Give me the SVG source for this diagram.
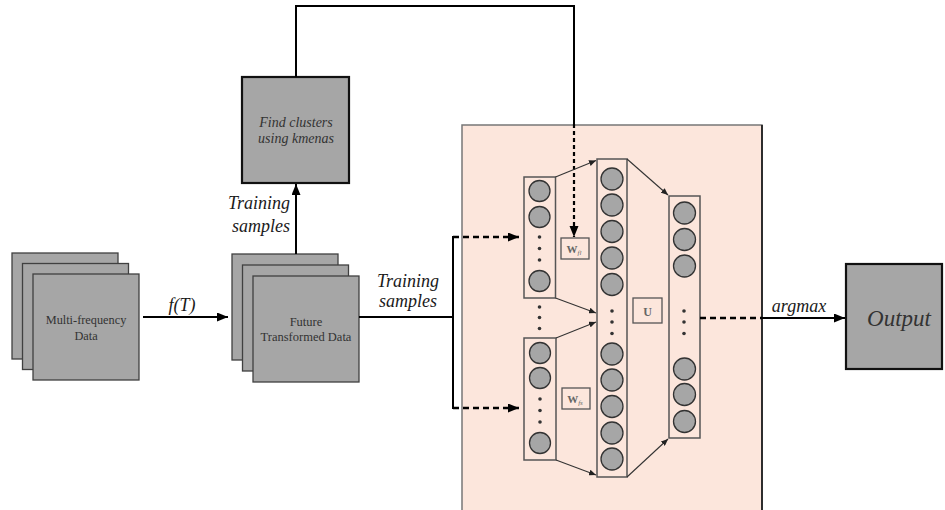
<svg xmlns="http://www.w3.org/2000/svg" width="945" height="510" viewBox="0 0 945 510">
  <defs>
    <style>
      .box { fill: #a6a6a6; stroke: #404040; stroke-width: 1.3; }
      .boxb { fill: #a6a6a6; stroke: #111; stroke-width: 2.2; }
      text { font-family: 'Liberation Serif', 'DejaVu Serif', serif; }
      .btxt { fill: #333; text-anchor: middle; }
      .lbl { font-style: italic; fill: #1a1a1a; font-size: 18px; }
      .conn { fill: none; stroke: #000; stroke-width: 2; }
      .dash { fill: none; stroke: #000; stroke-width: 2.5; stroke-dasharray: 6 4; }
      .dot { fill: none; stroke: #000; stroke-width: 2.2; stroke-dasharray: 4 3; }
      .thin { fill: none; stroke: #333; stroke-width: 1.1; }
      .col { fill: none; stroke: #555; stroke-width: 1.5; }
      .neuron { fill: #a6a6a6; stroke: #333; stroke-width: 1.3; }
      .ell { fill: #333; }
      .wbox { fill: none; stroke: #555; stroke-width: 1.3; }
      .wtxt { font-weight: bold; fill: #666; text-anchor: middle; }
    </style>
    <marker id="arr" markerUnits="userSpaceOnUse" markerWidth="12" markerHeight="10" refX="11" refY="4.5" orient="auto">
      <path d="M0,0 L11,4.5 L0,9 z" fill="#000"/>
    </marker>
    <marker id="arrS" markerUnits="userSpaceOnUse" markerWidth="8" markerHeight="6" refX="7" refY="3" orient="auto">
      <path d="M0,0 L7,3 L0,6 z" fill="#222"/>
    </marker>
  </defs>

  <rect width="945" height="510" fill="#fff"/>

  <!-- network panel background -->
  <g id="network-panel">
    <rect x="462" y="125" width="300" height="392" fill="#fce6dc" stroke="#777" stroke-width="1.5"/>
    <line x1="762" y1="125" x2="762" y2="510" stroke="#222" stroke-width="1.8"/>
  </g>

  <!-- input data stack -->
  <g id="multi-frequency-data">
    <rect class="box" x="12" y="253" width="106" height="106"/>
    <rect class="box" x="22.5" y="263.5" width="106" height="106"/>
    <rect class="box" x="33" y="274" width="106" height="106"/>
    <text class="btxt" x="86" y="324" font-size="12.3" font-family="'Liberation Serif', serif">Multi-frequency</text>
    <text class="btxt" x="86" y="340" font-size="12.3" font-family="'Liberation Serif', serif">Data</text>
  </g>

  <!-- transformed data stack -->
  <g id="transformed-data">
    <rect class="box" x="232" y="254" width="106" height="106"/>
    <rect class="box" x="242.5" y="265" width="106" height="106"/>
    <rect class="box" x="253" y="276" width="106" height="106"/>
    <text class="btxt" x="306" y="326" font-size="12.5" font-family="'Liberation Serif', serif">Future</text>
    <text class="btxt" x="306" y="341" font-size="12.5" font-family="'Liberation Serif', serif">Transformed Data</text>
  </g>

  <!-- clustering step -->
  <g id="find-clusters">
    <rect class="boxb" x="242" y="77" width="107" height="106"/>
    <text class="btxt" x="296" y="127" font-size="14" font-style="italic" font-family="'Liberation Serif', serif">Find clusters</text>
    <text class="btxt" x="296" y="143" font-size="14" font-style="italic" font-family="'Liberation Serif', serif">using kmenas</text>
  </g>

  <!-- output node -->
  <g id="output">
    <rect class="boxb" x="846" y="264" width="96" height="105"/>
    <text class="btxt" x="899" y="325.5" font-size="23" font-style="italic" fill="#222" font-family="'Liberation Serif', serif">Output</text>
  </g>

  <!-- first input column -->
  <g id="input-column-1">
    <rect class="col" x="524" y="177" width="31.5" height="121"/>
    <circle class="neuron" cx="539.5" cy="191" r="10.5"/>
    <circle class="neuron" cx="539.5" cy="217" r="10.5"/>
    <circle class="ell" cx="539.5" cy="237" r="1.8"/>
    <circle class="ell" cx="539.5" cy="248.5" r="1.8"/>
    <circle class="ell" cx="539.5" cy="260" r="1.8"/>
    <circle class="neuron" cx="539.5" cy="281" r="10.5"/>
  </g>

  <!-- ellipsis between input columns -->
  <g id="column-gap-dots">
    <circle class="ell" cx="539.5" cy="307" r="1.8"/>
    <circle class="ell" cx="539.5" cy="317.5" r="1.8"/>
    <circle class="ell" cx="539.5" cy="328.5" r="1.8"/>
  </g>

  <!-- second input column -->
  <g id="input-column-2">
    <rect class="col" x="524" y="338" width="32" height="122"/>
    <circle class="neuron" cx="540" cy="353" r="10.5"/>
    <circle class="neuron" cx="540" cy="378" r="10.5"/>
    <circle class="ell" cx="540" cy="399" r="1.8"/>
    <circle class="ell" cx="540" cy="410.5" r="1.8"/>
    <circle class="ell" cx="540" cy="422" r="1.8"/>
    <circle class="neuron" cx="540" cy="443" r="10.5"/>
  </g>

  <!-- weight labels -->
  <g id="weight-fl">
    <rect class="wbox" x="561" y="238" width="28" height="21"/>
    <text class="wtxt" x="574" y="253" font-size="11" font-family="'Liberation Serif', serif">W<tspan font-size="7" font-style="italic" font-weight="normal" dy="2">fl</tspan></text>
  </g>
  <g id="weight-fs">
    <rect class="wbox" x="562" y="388" width="28" height="21"/>
    <text class="wtxt" x="575" y="403" font-size="11" font-family="'Liberation Serif', serif">W<tspan font-size="7" font-style="italic" font-weight="normal" dy="2">fs</tspan></text>
  </g>
  <g id="weight-u">
    <rect class="wbox" x="633" y="298" width="29" height="25"/>
    <text class="wtxt" x="647.5" y="315.5" font-size="12" font-family="'Liberation Serif', serif">U</text>
  </g>

  <!-- hidden column -->
  <g id="hidden-column">
    <rect class="col" x="597" y="159" width="30" height="318"/>
    <circle class="neuron" cx="612" cy="179" r="11"/>
    <circle class="neuron" cx="612" cy="205" r="11"/>
    <circle class="neuron" cx="612" cy="231.5" r="11"/>
    <circle class="neuron" cx="612" cy="258" r="11"/>
    <circle class="neuron" cx="612" cy="284.5" r="11"/>
    <circle class="ell" cx="612" cy="311" r="1.8"/>
    <circle class="ell" cx="612" cy="322" r="1.8"/>
    <circle class="ell" cx="612" cy="333.5" r="1.8"/>
    <circle class="neuron" cx="612" cy="354" r="11"/>
    <circle class="neuron" cx="612" cy="380" r="11"/>
    <circle class="neuron" cx="612" cy="406.5" r="11"/>
    <circle class="neuron" cx="612" cy="433" r="11"/>
    <circle class="neuron" cx="612" cy="459" r="11"/>
  </g>

  <!-- output column -->
  <g id="output-column">
    <rect class="col" x="669" y="196" width="31" height="242"/>
    <circle class="neuron" cx="684.5" cy="213" r="11"/>
    <circle class="neuron" cx="684.5" cy="239.5" r="11"/>
    <circle class="neuron" cx="684.5" cy="266" r="11"/>
    <circle class="ell" cx="684" cy="311" r="1.8"/>
    <circle class="ell" cx="684" cy="322" r="1.8"/>
    <circle class="ell" cx="684" cy="333.5" r="1.8"/>
    <circle class="neuron" cx="684.5" cy="369" r="11"/>
    <circle class="neuron" cx="684.5" cy="394.5" r="11"/>
    <circle class="neuron" cx="684.5" cy="421.5" r="11"/>
  </g>

  <!-- connectors -->
  <g id="connectors">
    <line class="conn" x1="143" y1="317" x2="228" y2="317" marker-end="url(#arr)"/>
    <polyline class="conn" points="359,317 453,317"/>
    <line class="conn" x1="453" y1="236" x2="453" y2="409"/>
    <line class="dash" x1="453" y1="237" x2="519" y2="237" marker-end="url(#arr)"/>
    <line class="dash" x1="453" y1="408" x2="519" y2="408" marker-end="url(#arr)"/>
    <line class="conn" x1="296" y1="254" x2="296" y2="184" marker-end="url(#arr)"/>
    <polyline class="conn" points="296,77 296,6 574,6 574,124"/>
    <line class="dot" x1="574" y1="124" x2="574" y2="237" marker-end="url(#arr)"/>
    <line class="thin" x1="555.5" y1="177" x2="596" y2="160.5" marker-end="url(#arrS)"/>
    <line class="thin" x1="555.5" y1="298" x2="596" y2="313" marker-end="url(#arrS)"/>
    <line class="thin" x1="556" y1="338" x2="596" y2="322" marker-end="url(#arrS)"/>
    <line class="thin" x1="556" y1="460" x2="596" y2="475" marker-end="url(#arrS)"/>
    <line class="thin" x1="627" y1="159" x2="668" y2="195" marker-end="url(#arrS)"/>
    <line class="thin" x1="627" y1="477" x2="668" y2="439" marker-end="url(#arrS)"/>
    <line class="dash" x1="700" y1="318" x2="762" y2="318"/>
    <line class="conn" x1="762" y1="318" x2="845" y2="318" marker-end="url(#arr)"/>
  </g>

  <!-- connector labels -->
  <g id="labels">
    <text class="lbl" x="182" y="311" text-anchor="middle" font-family="'Liberation Serif', serif">f(T)</text>
    <text class="lbl" x="290" y="209" text-anchor="end" font-family="'Liberation Serif', serif">Training</text>
    <text class="lbl" x="290" y="232" text-anchor="end" font-family="'Liberation Serif', serif">samples</text>
    <text class="lbl" x="408" y="287" text-anchor="middle" font-family="'Liberation Serif', serif">Training</text>
    <text class="lbl" x="408" y="307" text-anchor="middle" font-family="'Liberation Serif', serif">samples</text>
    <text class="lbl" x="799" y="312" text-anchor="middle" font-family="'Liberation Serif', serif">argmax</text>
  </g>
</svg>
